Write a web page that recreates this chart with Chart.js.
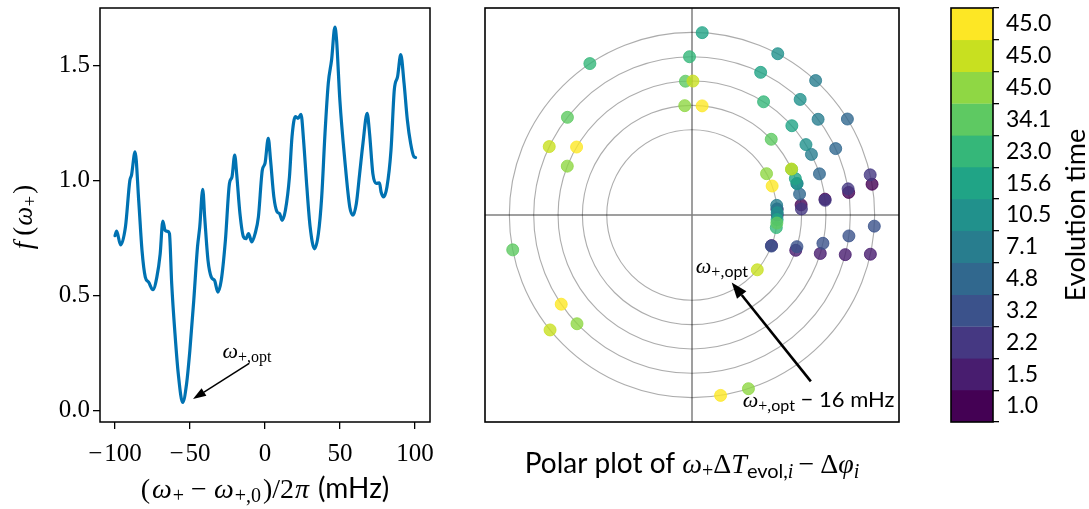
<!DOCTYPE html>
<html>
<head>
<meta charset="utf-8">
<script src="https://cdn.jsdelivr.net/npm/chart.js@4.4.0/dist/chart.umd.min.js"></script>
<style>
  html, body { margin: 0; padding: 0; background: #fff; }
  #wrap { position: relative; width: 1089px; height: 509px; overflow: hidden; }
  canvas { position: absolute; top: 0; }
</style>
</head>
<body>
<div id="wrap">
  <canvas id="scanChart" width="450" height="509" style="left:0px"></canvas>
  <canvas id="polarChart" width="445" height="509" style="left:470px"></canvas>
  <canvas id="cbarChart" width="159" height="509" style="left:930px"></canvas>
</div>
<script>
// detuning scan (mHz) and cost function
const detuning = [-100, -98.9, -96.3, -93, -90.1, -89, -86.6, -84.2, -82, -79.8, -77.6, -74.7, -72.1, -69.9, -68.1, -66.6, -64.8, -63.7, -62.2, -60, -57.8, -54.9, -52.3, -50.1, -47.5, -45, -43.5, -41.5, -40.2, -38, -35.8, -33.6, -31.4, -29.2, -26.4, -23.7, -22, -20.2, -18.9, -16.7, -14.3, -12.7, -11, -8.8, -6.6, -4.4, -1.8, 0, 2.2, 3.7, 5.9, 8.1, 9.7, 11.4, 13.6, 16.3, 18, 20.2, 22, 24, 25.7, 27.9, 30.1, 33, 35.6, 37.8, 40, 42.2, 44.4, 46.6, 47.7, 49.9, 53.2, 56.5, 58.7, 60.9, 63.1, 65.3, 68.1, 69.7, 71.9, 74.1, 76.3, 77.4, 79.1, 81.3, 84, 86.2, 88.4, 90.5, 92.7, 94.9, 97.1, 99.3, 100.4];
const cost = [0.76, 0.78, 0.72, 0.80, 1.0, 1.023, 1.125, 0.914, 0.696, 0.58, 0.558, 0.525, 0.58, 0.68, 0.824, 0.783, 0.779, 0.769, 0.551, 0.333, 0.158, 0.035, 0.115, 0.26, 0.478, 0.711, 0.798, 0.962, 0.84, 0.653, 0.58, 0.565, 0.515, 0.565, 0.74, 0.987, 1.016, 1.11, 1.03, 0.856, 0.754, 0.747, 0.769, 0.733, 0.769, 0.842, 1.045, 1.074, 1.183, 1.089, 0.929, 0.863, 0.856, 0.827, 0.871, 1.016, 1.19, 1.278, 1.27, 1.288, 1.176, 0.972, 0.798, 0.703, 0.769, 0.929, 1.205, 1.423, 1.525, 1.667, 1.612, 1.35, 1.089, 0.885, 0.849, 0.9, 1.03, 1.161, 1.292, 1.205, 1.03, 0.987, 0.99, 0.95, 0.929, 0.972, 1.132, 1.394, 1.452, 1.547, 1.423, 1.263, 1.161, 1.103, 1.10];
const xTicks = [-100, -50, 0, 50, 100];
const yTicks = [0, 0.5, 1.0, 1.5];

// evolution times, one colour level each (bottom to top of the colorbar)
const evolTimes = ['1.0', '1.5', '2.2', '3.2', '4.8', '7.1', '10.5', '15.6', '23.0', '34.1', '45.0', '45.0', '45.0'];
const levelColors = ['#440154', '#481d6f', '#453882', '#3b528b', '#31688e', '#287d8e', '#21918c', '#20a486', '#35b779', '#5ec962', '#8fd744', '#c8e020', '#fde725'];

// phase (deg) of each evolution time, one ring per detuning from the optimum
const phase0mHz  = [3.9, -21, 0, -21.4, 4.1, 6.5, 1.5, -3.1, -8.5, -5.4, 29, -40, 19.9];
const phase4mHz  = [5.3, -18.8, 3.2, -16.8, 11, 16.7, 16.6, 19.4, 24.6, 43.7, 93.8, 24.8, 84.7];
const phase8mHz  = [6.8, -16.7, 6.3, -12.2, 17.9, 26.9, 31.7, 41.8, 57.7, 92.8, 158.6, 89.6, 149.5];
const phase12mHz = [8.2, -14.5, 9.5, -7.6, 24.8, 37.2, 46.9, 64.3, 90.9, 141.9, 223.4, 154.4, 214.3];
const phase16mHz = [9.7, -12.4, 12.7, -3.5, 31.7, 47.4, 62, 86.8, 124, 191, 288, 219, 279];
const ringRadius = [3.5, 4.5, 5.5, 6.5, 7.5];
const ringPhases = [phase0mHz, phase4mHz, phase8mHz, phase12mHz, phase16mHz];

const SERIF = '"Liberation Serif", serif';
const SANS = 'Lato, sans-serif';
const serif = (size, style) => (style || '') + ' ' + size + 'px ' + SERIF;
const sans = size => size + 'px ' + SANS;

function rgba(hex, a) {
  const n = parseInt(hex.slice(1), 16);
  return 'rgba(' + (n >> 16) + ',' + ((n >> 8) & 255) + ',' + (n & 255) + ',' + a + ')';
}

// draws a run of [text, font, dy, extra advance] pieces on one baseline
function richText(ctx, parts, x, y, align) {
  let w = 0;
  parts.forEach(p => { ctx.font = p[1]; w += ctx.measureText(p[0]).width + (p[3] || 0); });
  let cx = align === 'center' ? x - w / 2 : x;
  ctx.textAlign = 'left';
  ctx.textBaseline = 'alphabetic';
  ctx.fillStyle = '#000';
  parts.forEach(p => {
    ctx.font = p[1];
    ctx.fillText(p[0], cx, y + (p[2] || 0));
    cx += ctx.measureText(p[0]).width + (p[3] || 0);
  });
}

function arrow(ctx, x1, y1, x2, y2, lw, len, wid) {
  const a = Math.atan2(y2 - y1, x2 - x1);
  const bx = x2 - len * Math.cos(a), by = y2 - len * Math.sin(a);
  ctx.save();
  ctx.strokeStyle = '#000';
  ctx.fillStyle = '#000';
  ctx.lineWidth = lw;
  ctx.beginPath();
  ctx.moveTo(x1, y1);
  ctx.lineTo(bx, by);
  ctx.stroke();
  ctx.beginPath();
  ctx.moveTo(x2, y2);
  ctx.lineTo(bx + wid / 2 * Math.sin(a), by - wid / 2 * Math.cos(a));
  ctx.lineTo(bx - wid / 2 * Math.sin(a), by + wid / 2 * Math.cos(a));
  ctx.closePath();
  ctx.fill();
  ctx.restore();
}

// keep chart areas exactly where the layout padding puts them
function noScalePadding(s) {
  s.paddingTop = 0; s.paddingBottom = 0; s.paddingLeft = 0; s.paddingRight = 0;
}

const omegaOpt = (size, sub, subFont) => [['ω', serif(size, 'italic')], ['+,', serif(sub), 4], ['opt', subFont, 4]];

// ---- left: cost function vs detuning ----
const scanDecor = {
  id: 'scanDecor',
  afterDatasetsDraw(chart) {
    const { ctx, chartArea: ca, scales: { x, y } } = chart;
    ctx.save();
    ctx.strokeStyle = '#000';
    ctx.lineWidth = 1.5;
    ctx.strokeRect(ca.left, ca.top, ca.right - ca.left, ca.bottom - ca.top);
    arrow(ctx, x.getPixelForValue(-10.5), y.getPixelForValue(0.205), x.getPixelForValue(-48), y.getPixelForValue(0.05), 1.5, 13, 9);
    richText(ctx, omegaOpt(22, 16, serif(16)), x.getPixelForValue(-12), y.getPixelForValue(0.229), 'center');
    // axis titles
    richText(ctx, [
      ['(', serif(28), 0, 2], ['ω', serif(28, 'italic'), 0, 1], ['+', serif(20), 4, 7],
      ['−', serif(28), 0, 7], ['ω', serif(28, 'italic'), 0, 1], ['+,0', serif(20), 4, 2],
      [')/2', serif(28), 0, 1], ['π', serif(28, 'italic'), 0, 9], ['(mHz)', sans(28)]
    ], 265, 498, 'center');
    ctx.translate(32, 217);
    ctx.rotate(-Math.PI / 2);
    richText(ctx, [['f', serif(27, 'italic'), 0, 6], ['(', serif(27), 0, 1], ['ω', serif(27, 'italic')], ['+', serif(19), 4, 2], [')', serif(27)]], 0, 0, 'center');
    ctx.restore();
  }
};

new Chart(document.getElementById('scanChart'), {
  type: 'line',
  data: {
    datasets: [{
      data: detuning.map((d, i) => ({ x: d, y: cost[i] })),
      borderColor: '#0072B2',
      borderWidth: 3.2,
      borderCapStyle: 'round',
      borderJoinStyle: 'round',
      pointRadius: 0,
      cubicInterpolationMode: 'monotone',
      fill: false
    }]
  },
  options: {
    responsive: false,
    animation: false,
    events: [],
    layout: { padding: { left: 0, right: 20, top: 8, bottom: 0 } },
    plugins: { legend: { display: false }, tooltip: { enabled: false } },
    scales: {
      x: {
        type: 'linear', min: -110, max: 110,
        afterBuildTicks: s => { s.ticks = xTicks.map(v => ({ value: v })); },
        afterFit: s => { s.height = 87; noScalePadding(s); },
        grid: { drawOnChartArea: false, drawTicks: true, tickLength: 7, color: '#000', lineWidth: 1.3 },
        border: { display: false },
        ticks: { color: '#000', padding: 10, font: { family: SERIF, size: 25 }, callback: v => (v < 0 ? '−\u200a' : '') + Math.abs(v) }
      },
      y: {
        type: 'linear', min: -0.05, max: 1.75,
        afterBuildTicks: s => { s.ticks = yTicks.map(v => ({ value: v })); },
        afterFit: s => { s.width = 100; noScalePadding(s); },
        grid: { drawOnChartArea: false, drawTicks: true, tickLength: 7, color: '#000', lineWidth: 1.3 },
        border: { display: false },
        ticks: { color: '#000', padding: 3, font: { family: SERIF, size: 25 }, callback: v => v.toFixed(1) }
      }
    }
  },
  plugins: [scanDecor]
});

// ---- middle: phases on rings ----
const polarDecor = {
  id: 'polarDecor',
  beforeDatasetsDraw(chart) {
    const { ctx, chartArea: ca, scales: { x, y } } = chart;
    const cx = x.getPixelForValue(0), cy = y.getPixelForValue(0);
    ctx.save();
    ctx.strokeStyle = 'rgba(128,128,128,0.65)';
    ctx.lineWidth = 1.1;
    ringRadius.forEach(r => {
      const rp = x.getPixelForValue(r) - cx;
      ctx.beginPath();
      ctx.arc(cx, cy, rp, 0, 2 * Math.PI);
      ctx.stroke();
    });
    ctx.strokeStyle = 'rgba(0,0,0,0.5)';
    ctx.lineWidth = 1.5;
    ctx.beginPath();
    ctx.moveTo(ca.left, cy); ctx.lineTo(ca.right, cy);
    ctx.moveTo(cx, ca.top); ctx.lineTo(cx, ca.bottom);
    ctx.stroke();
    ctx.restore();
  },
  afterDatasetsDraw(chart) {
    const { ctx, chartArea: ca, scales: { x, y } } = chart;
    ctx.save();
    arrow(ctx, x.getPixelForValue(4.88), y.getPixelForValue(-6.83), x.getPixelForValue(1.63), y.getPixelForValue(-2.77), 2.6, 16, 12);
    richText(ctx, omegaOpt(22, 16, sans(16)), x.getPixelForValue(1.23), y.getPixelForValue(-2.38), 'center');
    richText(ctx, omegaOpt(22, 16, sans(16)).concat([[' − 16 mHz', sans(22)]]), x.getPixelForValue(5.2), y.getPixelForValue(-7.9), 'center');
    ctx.strokeStyle = '#000';
    ctx.lineWidth = 1.6;
    ctx.strokeRect(ca.left, ca.top, ca.right - ca.left, ca.bottom - ca.top);
    richText(ctx, [
      ['Polar plot of ', sans(28)], ['ω', serif(28, 'italic')], ['+', serif(20), 4],
      ['Δ', serif(28)], ['T', serif(28, 'italic')], ['evol,', sans(20), 5], ['i', serif(20, 'italic'), 5, 5],
      ['−', serif(28), 0, 6], ['Δ', serif(28)], ['φ', serif(28, 'italic')], ['i', serif(20, 'italic'), 5]
    ], (ca.left + ca.right) / 2, 473, 'center');
    ctx.restore();
  }
};

new Chart(document.getElementById('polarChart'), {
  type: 'scatter',
  data: {
    datasets: ringPhases.map((ph, k) => ({
      data: ph.map(a => ({
        x: ringRadius[k] * Math.cos(a * Math.PI / 180),
        y: ringRadius[k] * Math.sin(a * Math.PI / 180)
      })),
      pointRadius: 6,
      pointBorderWidth: 1,
      pointBackgroundColor: levelColors.map(c => rgba(c, 0.8)),
      pointBorderColor: levelColors.map(c => rgba(c, 0.8))
    }))
  },
  options: {
    responsive: false,
    animation: false,
    events: [],
    layout: { padding: { left: 15, right: 16, top: 8, bottom: 87 } },
    plugins: { legend: { display: false }, tooltip: { enabled: false } },
    scales: {
      x: { type: 'linear', min: -8.5, max: 8.5, display: false },
      y: { type: 'linear', min: -8.5, max: 8.5, display: false }
    }
  },
  plugins: [polarDecor]
});

// ---- right: discrete colorbar ----
const cbarDecor = {
  id: 'cbarDecor',
  afterDraw(chart) {
    const { ctx, chartArea: ca } = chart;
    ctx.save();
    ctx.strokeStyle = '#000';
    ctx.lineWidth = 1.6;
    ctx.strokeRect(ca.left, ca.top, ca.right - ca.left, ca.bottom - ca.top);
    ctx.translate(1085 - 930, 215);
    ctx.rotate(-Math.PI / 2);
    richText(ctx, [['Evolution time', sans(27)]], 0, 0, 'center');
    ctx.restore();
  }
};

new Chart(document.getElementById('cbarChart'), {
  type: 'bar',
  data: {
    labels: evolTimes,
    datasets: [{
      data: evolTimes.map(() => 1),
      backgroundColor: levelColors,
      borderColor: levelColors,
      borderWidth: 0.5,
      barPercentage: 1,
      categoryPercentage: 1
    }]
  },
  options: {
    indexAxis: 'y',
    responsive: false,
    animation: false,
    events: [],
    layout: { padding: { left: 21, right: 0, top: 8, bottom: 87 } },
    plugins: { legend: { display: false }, tooltip: { enabled: false } },
    scales: {
      x: { display: false, min: 0, max: 1 },
      y: {
        type: 'category', position: 'right', reverse: true, offset: true,
        afterFit: s => { s.width = 96; noScalePadding(s); },
        grid: { offset: true, drawOnChartArea: false, drawTicks: true, tickLength: 6, color: '#000', lineWidth: 1.3 },
        border: { display: false },
        ticks: { color: '#000', padding: 7, font: { family: SANS, size: 23 } }
      }
    }
  },
  plugins: [cbarDecor]
});
</script>
</body>
</html>
